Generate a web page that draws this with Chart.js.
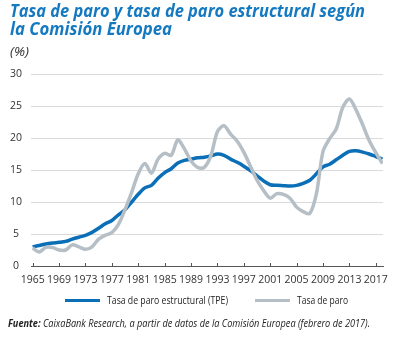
<!DOCTYPE html>
<html lang="es">
<head>
<meta charset="utf-8">
<title>Tasa de paro y tasa de paro estructural</title>
<script src="https://cdn.jsdelivr.net/npm/chart.js@4.4.1/dist/chart.umd.min.js"></script>
<style>
  html, body { margin: 0; padding: 0; background: #fff; }
  #wrap { position: relative; width: 396px; height: 338px; overflow: hidden; font-family: "Open Sans", sans-serif; }
  #chart { position: absolute; left: 0; top: 0; }
  .fit { position: absolute; white-space: nowrap; transform-origin: 0 50%; }
  .title { left: 10px; color: #1579c0; font-weight: 700; font-style: italic; font-size: 17px; line-height: 18px; }
  .unit { left: 10px; top: 45px; color: #333; font-style: italic; font-size: 12px; line-height: 14px; }
  .leg { color: #222; font-size: 10px; line-height: 12px; top: 294px; }
  .swatch { position: absolute; top: 298.5px; width: 35px; height: 3px; }
  .src { left: 8px; top: 317px; color: #222; font-style: italic; font-size: 10px; line-height: 12px; }
</style>
</head>
<body>
<div id="wrap">
  <canvas id="chart" width="396" height="338"></canvas>

  <div class="fit title" style="top:2px" data-w="355">Tasa de paro y tasa de paro estructural según</div>
  <div class="fit title" style="top:20px" data-w="162">la Comisión Europea</div>
  <div class="fit unit" data-w="19">(%)</div>

  <div class="swatch" style="left:65px; background:#0b6fb8"></div>
  <div class="fit leg" style="left:107px" data-w="121">Tasa de paro estructural (TPE)</div>
  <div class="swatch" style="left:255px; background:#b5bfc5"></div>
  <div class="fit leg" style="left:297px" data-w="51">Tasa de paro</div>

  <div class="fit src" data-w="362"><b>Fuente:</b> CaixaBank Research, a partir de datos de la Comisión Europea (febrero de 2017).</div>
</div>

<script>
// ---- data (%), yearly 1965-2018 ----
const years = [
  1965, 1966, 1967, 1968, 1969, 1970, 1971, 1972, 1973, 1974,
  1975, 1976, 1977, 1978, 1979, 1980, 1981, 1982, 1983, 1984,
  1985, 1986, 1987, 1988, 1989, 1990, 1991, 1992, 1993, 1994,
  1995, 1996, 1997, 1998, 1999, 2000, 2001, 2002, 2003, 2004,
  2005, 2006, 2007, 2008, 2009, 2010, 2011, 2012, 2013, 2014,
  2015, 2016, 2017, 2018
];

// structural unemployment (TPE)
const tpe = [
  3.0, 3.2, 3.45, 3.6, 3.7, 3.85, 4.2, 4.5, 4.8, 5.25,
  5.9, 6.6, 7.1, 8.0, 8.8, 10.0, 11.2, 12.2, 12.6, 13.7,
  14.6, 15.2, 16.1, 16.5, 16.7, 16.9, 17.0, 17.2, 17.5, 17.3,
  16.7, 16.2, 15.6, 14.9, 14.1, 13.3, 12.7, 12.6, 12.55, 12.5,
  12.6, 12.9, 13.4, 14.4, 15.5, 15.9, 16.6, 17.3, 17.9, 18.0,
  17.8, 17.5, 17.1, 16.7
];

// unemployment rate
const paro = [
  2.8, 2.2, 2.9, 2.9, 2.5, 2.5, 3.3, 3.0, 2.6, 3.0,
  4.2, 4.8, 5.2, 6.5, 8.8, 11.5, 14.4, 16.0, 14.5, 16.7,
  17.6, 17.3, 19.7, 18.3, 16.4, 15.4, 15.4, 17.2, 21.0, 21.9,
  20.6, 19.5, 17.8, 15.6, 13.4, 11.8, 10.6, 11.3, 11.2, 10.6,
  9.2, 8.5, 8.2, 11.3, 17.9, 19.9, 21.4, 24.8, 26.1, 24.4,
  22.1, 19.6, 17.7, 16.0
];

const tickYears = [1965, 1969, 1973, 1977, 1981, 1985, 1989, 1993, 1997, 2001, 2005, 2009, 2013, 2017];
const yTicks = [0, 5, 10, 15, 20, 25, 30];

const BLUE = '#0b6fb8';
const GREY = '#b5bfc5';

// squeeze the html labels to their widths (condensed look)
document.querySelectorAll('.fit[data-w]').forEach(el => {
    const natural = el.getBoundingClientRect().width;
    const k = parseFloat(el.dataset.w) / natural;
    el.style.transform = `scaleX(${k})`;
});

// short tick marks pointing up from the x axis
const xTickMarks = {
    id: 'xTickMarks',
    afterDraw(chart) {
        const { ctx, chartArea, scales } = chart;
        const x = scales.x;
        ctx.save();
        ctx.strokeStyle = '#555';
        ctx.lineWidth = 1;
        x.ticks.forEach(t => {
            const px = Math.round(x.getPixelForValue(t.value)) + 0.5;
            ctx.beginPath();
            ctx.moveTo(px, chartArea.bottom - 3);
            ctx.lineTo(px, chartArea.bottom);
            ctx.stroke();
        });
        ctx.restore();
    }
};

const toPoints = arr => arr.map((v, i) => ({ x: years[i], y: v }));

new Chart(document.getElementById('chart'), {
    type: 'line',
    data: {
        datasets: [
            {
                label: 'Tasa de paro estructural (TPE)',
                data: toPoints(tpe),
                borderColor: BLUE,
                backgroundColor: BLUE,
                borderWidth: 3.5,
                pointRadius: 0,
                tension: 0.3,
                order: 1
            },
            {
                label: 'Tasa de paro',
                data: toPoints(paro),
                borderColor: GREY,
                backgroundColor: GREY,
                borderWidth: 3.5,
                pointRadius: 0,
                tension: 0.3,
                order: 0
            }
        ]
    },
    options: {
        responsive: false,
        animation: false,
        layout: { padding: { top: 74, right: 9, bottom: 52, left: 0 } },
        plugins: {
            legend: { display: false },
            tooltip: { enabled: false }
        },
        scales: {
            x: {
                type: 'linear',
                min: 1964.75,
                max: 2018.1,
                afterBuildTicks: s => { s.ticks = tickYears.map(v => ({ value: v })); },
                afterFit: s => { s.height = 20; },
                grid: { display: false, drawTicks: false },
                border: { display: true, color: '#555', width: 1 },
                ticks: {
                    callback: v => String(v),
                    autoSkip: false,
                    maxRotation: 0,
                    padding: 8,
                    color: '#333',
                    font: { family: '"Open Sans", sans-serif', size: 10.5 }
                }
            },
            y: {
                min: 0,
                max: 30,
                afterBuildTicks: s => { s.ticks = yTicks.map(v => ({ value: v })); },
                afterFit: s => { s.width = 31; },
                grid: { color: '#dadada', lineWidth: 1, drawTicks: false },
                border: { display: false },
                ticks: {
                    padding: 9,
                    crossAlign: 'center',
                    color: '#333',
                    font: { family: '"Open Sans", sans-serif', size: 10.5 }
                }
            }
        }
    },
    plugins: [xTickMarks]
});
</script>
</body>
</html>
